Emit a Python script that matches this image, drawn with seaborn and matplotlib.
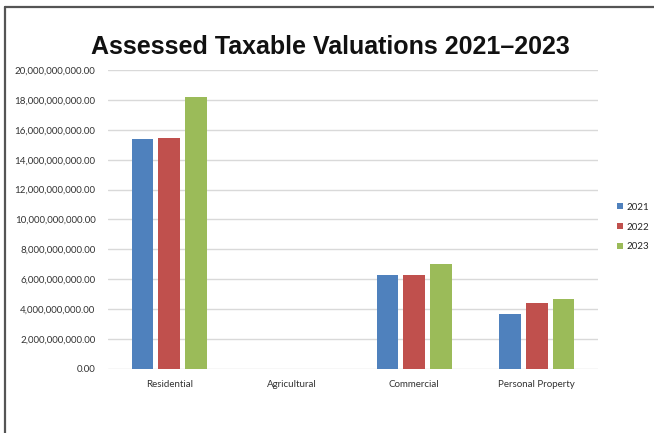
import matplotlib
matplotlib.use("Agg")
import matplotlib.pyplot as plt
import seaborn as sns
import pandas as pd
from matplotlib.patches import Patch
from matplotlib.lines import Line2D
from matplotlib.ticker import FuncFormatter

categories = ["Residential", "Agricultural", "Commercial", "Personal Property"]
years = ["2021", "2022", "2023"]
values_2021 = [15.38e9, 0.03e9, 6.29e9, 3.66e9]
values_2022 = [15.47e9, 0.03e9, 6.29e9, 4.39e9]
values_2023 = [18.20e9, 0.03e9, 7.04e9, 4.66e9]
colors = ["#4F81BD", "#C0504D", "#9BBB59"]

rows = []
for y, vals in zip(years, [values_2021, values_2022, values_2023]):
    for c, v in zip(categories, vals):
        rows.append({"Category": c, "Year": y, "Value": v})
df = pd.DataFrame(rows)

sns.set_theme(style="white")
plt.rcParams["font.family"] = ["Lato", "DejaVu Sans"]

fig = plt.figure(figsize=(6.54, 4.33), dpi=100)
ax = fig.add_axes([108/654, 1 - 369/433, (598-108)/654, (369-70)/433])

sns.barplot(data=df, x="Category", y="Value", hue="Year", palette=colors,
            order=categories, hue_order=years, width=0.66, gap=0.2,
            saturation=1, edgecolor="none", linewidth=0, ax=ax, legend=False)

ax.set_ylim(0, 20e9)
ax.set_yticks([i * 2e9 for i in range(11)])
ax.yaxis.set_major_formatter(FuncFormatter(lambda v, p: f"{v:,.2f}"))
ax.grid(axis="y", color="#d9d9d9", linewidth=1)
ax.set_axisbelow(True)
for s in ax.spines.values():
    s.set_visible(False)
ax.tick_params(axis="both", length=0, labelsize=7, colors="#333333")
ax.tick_params(axis="y", pad=9)
ax.tick_params(axis="x", pad=8)
ax.set_xlabel("")
ax.set_ylabel("")
ax.set_xlim(-0.5, 3.5)

handles = [Patch(facecolor=c, edgecolor="none") for c in colors]
fig.legend(handles, years, loc="center left", bbox_to_anchor=(612/654, 1 - 227/433),
           frameon=False, fontsize=7, handlelength=0.6, handleheight=0.6,
           handletextpad=0.4, labelspacing=1.1, borderpad=0)

fig.text(330/654, 1 - 47/433, "Assessed Taxable Valuations 2021\u20132023",
         ha="center", va="center", fontsize=18, fontweight="bold",
         family=["Liberation Sans", "DejaVu Sans"], color="#111111")

fig.add_artist(Line2D([5/654, 1], [1 - 7/433, 1 - 7/433], color="#555555", linewidth=1.6))
fig.add_artist(Line2D([5/654, 5/654], [0, 1 - 7/433], color="#555555", linewidth=1.6))

fig.savefig("out.png", dpi=100, facecolor="white")
